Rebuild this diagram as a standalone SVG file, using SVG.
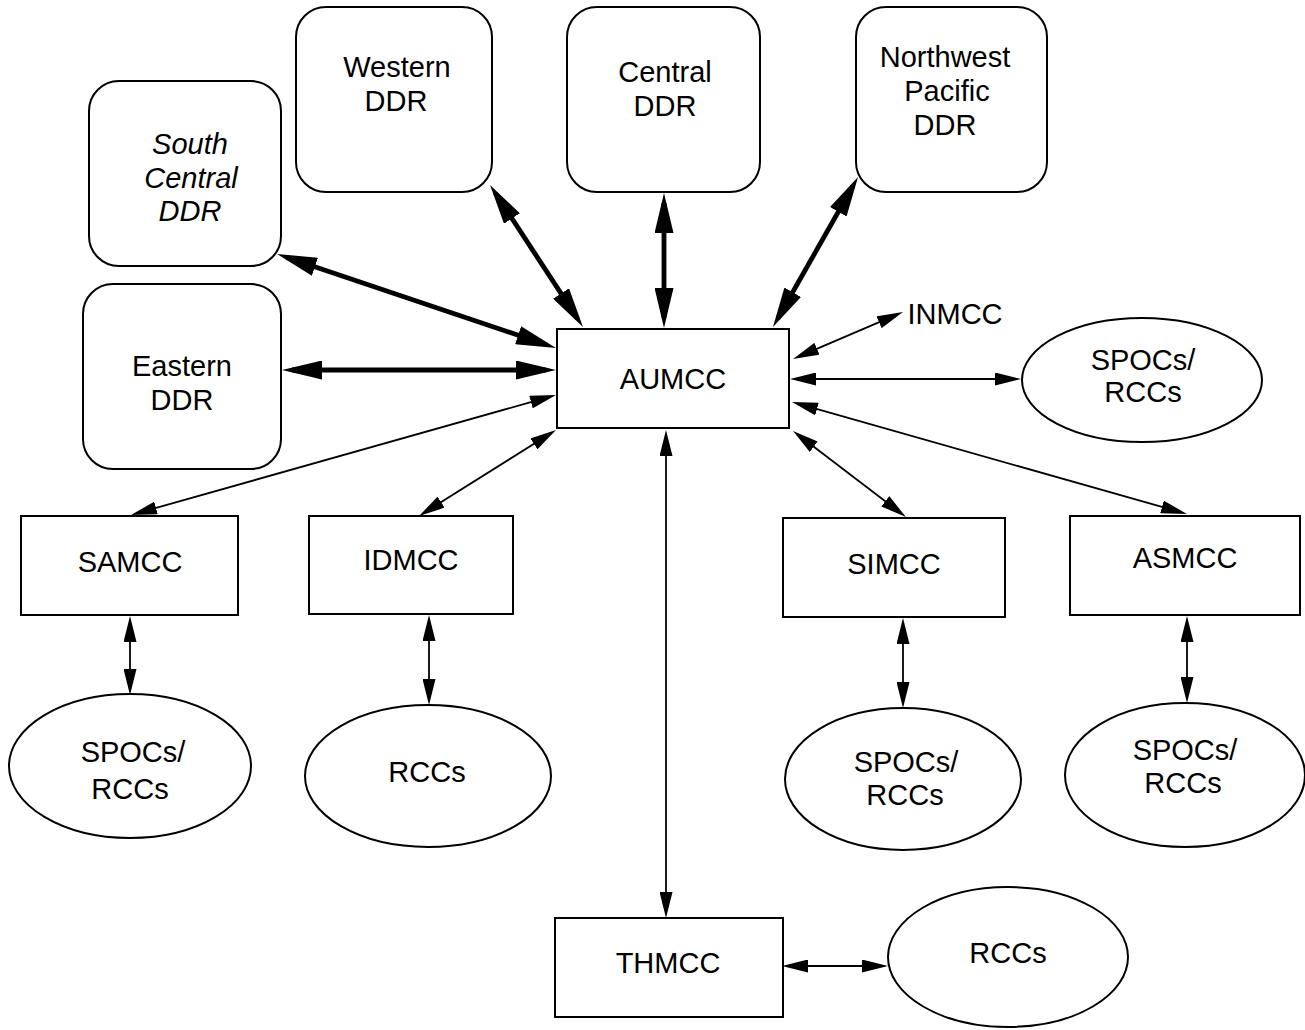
<svg xmlns="http://www.w3.org/2000/svg" width="1305" height="1030" viewBox="0 0 1305 1030">
<defs>
<style>
.box{fill:#fff;stroke:#000;stroke-width:2}
.t{font-family:"Liberation Sans",Arial,sans-serif;font-size:29px;fill:#000;text-anchor:middle}
.it{font-style:italic}
.thick{stroke:#000;stroke-width:4.8;fill:none;marker-start:url(#ah);marker-end:url(#ah)}
.thin{stroke:#000;stroke-width:1.8;fill:none;marker-start:url(#as);marker-end:url(#as)}
</style>
<marker id="ah" viewBox="0 0 40 19" refX="30" refY="9.5" markerWidth="40" markerHeight="19" markerUnits="userSpaceOnUse" orient="auto-start-reverse"><path d="M0,0 L40,9.5 L0,19 z" fill="#000"/></marker>
<marker id="as" viewBox="0 0 26 13" refX="18" refY="6.5" markerWidth="26" markerHeight="13" markerUnits="userSpaceOnUse" orient="auto-start-reverse"><path d="M0,0 L26,6.5 L0,13 z" fill="#000"/></marker>
</defs>
<rect width="1305" height="1030" fill="#fff"/>
<g id="connectors">
<line class="thick" x1="286.5" y1="257.2" x2="546.5" y2="344.8"/>
<line class="thick" x1="292" y1="370" x2="546" y2="370"/>
<line class="thick" x1="495.5" y1="193.4" x2="577.5" y2="318.6"/>
<line class="thick" x1="664" y1="203" x2="664" y2="318"/>
<line class="thick" x1="853.1" y1="185.7" x2="777.9" y2="318.3"/>
<line class="thin" x1="800.4" y1="355.9" x2="895.6" y2="315.1"/>
<line class="thin" x1="798" y1="379" x2="1013" y2="379"/>
<line class="thin" x1="799.7" y1="404.2" x2="1179.3" y2="511.8"/>
<line class="thin" x1="799.4" y1="435.8" x2="899.6" y2="512.2"/>
<line class="thin" x1="666" y1="438" x2="666" y2="910"/>
<line class="thin" x1="549.2" y1="434.3" x2="425.8" y2="511.7"/>
<line class="thin" x1="548.3" y1="397.2" x2="138.7" y2="512.8"/>
<line class="thin" x1="130" y1="624" x2="130" y2="687"/>
<line class="thin" x1="429" y1="623" x2="429" y2="697"/>
<line class="thin" x1="903" y1="626" x2="903" y2="700"/>
<line class="thin" x1="1187" y1="624" x2="1187" y2="695"/>
<line class="thin" x1="790" y1="966" x2="880" y2="966"/>
</g>
<g id="southcentral"><rect class="box" x="89" y="81" width="192" height="185" rx="30"/>
<text class="t it" x="190" y="154">South</text><text class="t it" x="191" y="188">Central</text><text class="t it" x="190" y="221">DDR</text></g>
<g id="western"><rect class="box" x="296" y="7" width="196" height="185" rx="30"/>
<text class="t" x="397" y="77">Western</text><text class="t" x="396" y="111">DDR</text></g>
<g id="central"><rect class="box" x="567" y="7" width="193" height="185" rx="30"/>
<text class="t" x="665" y="82">Central</text><text class="t" x="665" y="116">DDR</text></g>
<g id="northwest"><rect class="box" x="856" y="7" width="191" height="185" rx="30"/>
<text class="t" x="945" y="67">Northwest</text><text class="t" x="947" y="101">Pacific</text><text class="t" x="945" y="135">DDR</text></g>
<g id="eastern"><rect class="box" x="83" y="284" width="198" height="185" rx="30"/>
<text class="t" x="182" y="376">Eastern</text><text class="t" x="182" y="410">DDR</text></g>
<g id="aumcc"><rect class="box" x="557" y="329" width="232" height="99"/>
<text class="t" x="673" y="389">AUMCC</text></g>
<g id="inmcc"><text class="t" x="955" y="324">INMCC</text></g>
<g id="spocs-au"><ellipse class="box" cx="1142" cy="380" rx="120" ry="62"/>
<text class="t" x="1143" y="370">SPOCs/</text><text class="t" x="1143" y="402">RCCs</text></g>
<g id="samcc"><rect class="box" x="21" y="516" width="217" height="99"/>
<text class="t" x="130" y="572">SAMCC</text></g>
<g id="idmcc"><rect class="box" x="309" y="516" width="204" height="98"/>
<text class="t" x="411" y="570">IDMCC</text></g>
<g id="simcc"><rect class="box" x="783" y="518" width="222" height="99"/>
<text class="t" x="894" y="574">SIMCC</text></g>
<g id="asmcc"><rect class="box" x="1070" y="516" width="230" height="99"/>
<text class="t" x="1185" y="568">ASMCC</text></g>
<g id="spocs-sa"><ellipse class="box" cx="130" cy="766" rx="121" ry="72"/>
<text class="t" x="133" y="762">SPOCs/</text><text class="t" x="130" y="799">RCCs</text></g>
<g id="rccs-id"><ellipse class="box" cx="428" cy="776" rx="123" ry="71"/>
<text class="t" x="427" y="782">RCCs</text></g>
<g id="spocs-si"><ellipse class="box" cx="903" cy="779" rx="118" ry="71"/>
<text class="t" x="906" y="772">SPOCs/</text><text class="t" x="905" y="805">RCCs</text></g>
<g id="spocs-as"><ellipse class="box" cx="1185" cy="775" rx="120" ry="72"/>
<text class="t" x="1185" y="760">SPOCs/</text><text class="t" x="1183" y="793">RCCs</text></g>
<g id="thmcc"><rect class="box" x="555" y="918" width="228" height="99"/>
<text class="t" x="668" y="973">THMCC</text></g>
<g id="rccs-th"><ellipse class="box" cx="1008" cy="957" rx="120" ry="70"/>
<text class="t" x="1008" y="963">RCCs</text></g>
</svg>
